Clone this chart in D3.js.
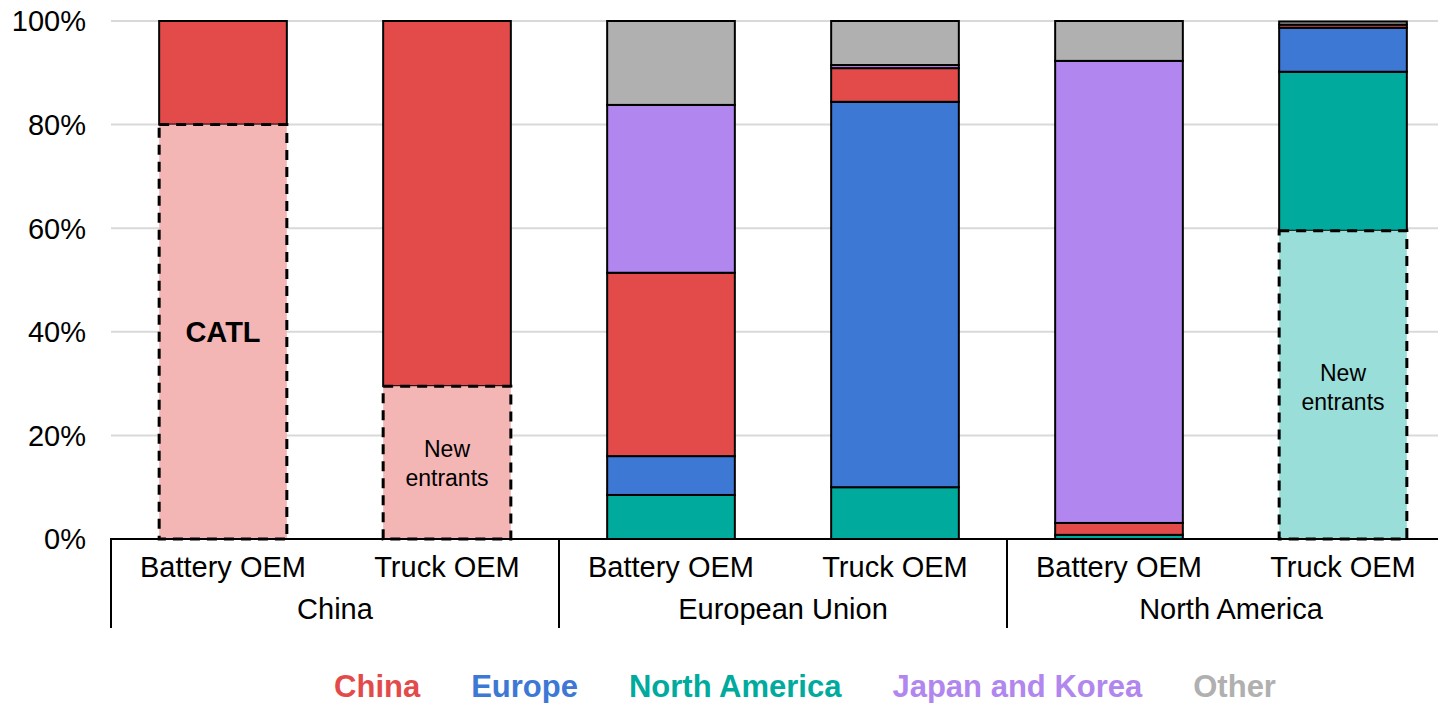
<!DOCTYPE html>
<html lang="en">
<head>
  <meta charset="UTF-8" />
  <title>Battery and truck OEM market share by region</title>
  <script src="https://d3js.org/d3.v7.min.js"></script>
  <style>
    body { margin: 0; background: white; }
    svg { display: block; font-family: "Liberation Sans", Arial, sans-serif; }
    .grid line { stroke: #d9d9d9; stroke-width: 2; }
    .seg { stroke: black; stroke-width: 2; }
    .seg.new { stroke-width: 3; stroke-dasharray: 10 7; }
  </style>
</head>
<body>
  <script>
    // bars, left to right
    const markets = ['China', 'China', 'European Union', 'European Union', 'North America', 'North America'];
    const oemTypes = ['Battery OEM', 'Truck OEM', 'Battery OEM', 'Truck OEM', 'Battery OEM', 'Truck OEM'];
    const groups = ['China', 'European Union', 'North America'];
    const origins = ['China', 'Europe', 'North America', 'Japan and Korea', 'Other'];
    const colors = ['#e34b4b', '#3d78d4', '#00ab9e', '#b186ee', '#b0b0b0'];
    const lightColors = ['#f4b5b5', null, '#99ded8', null, null];

    // share (%) of OEMs by origin; "newShare" is the dashed part (CATL / new entrants)
    const chinaShare = [20, 70.5, 35.4, 6.5, 2.3, 0.6];
    const europeShare = [0, 0, 7.5, 74.4, 0, 8.5];
    const naShare = [0, 0, 8.5, 10.0, 0.8, 30.7];
    const jkShare = [0, 0, 32.4, 0.6, 89.2, 0];
    const otherShare = [0, 0, 16.2, 8.5, 7.7, 0.6];
    const newShare = [80, 29.5, 0, 0, 0, 59.5];
    const newLabels = ['CATL', 'New\nentrants', '', '', '', 'New\nentrants'];
    const yTicks = [0, 20, 40, 60, 80, 100];

    const w = 1438, h = 703;
    const plotLeft = 111, plotRight = 1455, plotTop = 21, base = 539;

    const svg = d3.select('body').append('svg')
      .attr('width', w)
      .attr('height', h);

    const x = d3.scaleBand()
      .domain(d3.range(markets.length))
      .range([plotLeft, plotRight])
      .paddingInner(0.43)
      .paddingOuter(0.215);

    const y = d3.scaleLinear().domain([0, 100]).range([base, plotTop]);

    // gridlines + percent labels
    const grid = svg.append('g').attr('class', 'grid');
    grid.selectAll('line')
      .data(yTicks.filter(d => d > 0))
      .join('line')
      .attr('x1', plotLeft).attr('x2', w)
      .attr('y1', d => y(d)).attr('y2', d => y(d));

    svg.append('g')
      .selectAll('text')
      .data(yTicks)
      .join('text')
      .attr('x', 86)
      .attr('y', d => y(d))
      .attr('dy', '0.36em')
      .attr('text-anchor', 'end')
      .attr('font-size', '29px')
      .attr('fill', '#000')
      .text(d => d + '%');

    // build stacks per bar
    const segs = [];
    markets.forEach((m, i) => {
      let y0 = 0;
      const parts = [];
      if (newShare[i] > 0) {
        const oi = m === 'China' ? 0 : 2;
        parts.push({ v: newShare[i], fill: lightColors[oi], isNew: true });
      }
      const vals = [naShare[i], europeShare[i], chinaShare[i], jkShare[i], otherShare[i]];
      const cols = [colors[2], colors[1], colors[0], colors[3], colors[4]];
      [0, 1, 2, 3, 4].forEach(k => {
        if (vals[k] > 0) parts.push({ v: vals[k], fill: cols[k], isNew: false });
      });
      parts.forEach(p => {
        segs.push({ i, y0, y1: y0 + p.v, fill: p.fill, isNew: p.isNew });
        y0 += p.v;
      });
    });

    svg.append('g')
      .selectAll('rect')
      .data(segs.filter(s => !s.isNew))
      .join('rect')
      .attr('class', 'seg')
      .attr('x', d => x(d.i))
      .attr('width', x.bandwidth())
      .attr('y', d => y(Math.min(d.y1, 100)))
      .attr('height', d => y(d.y0) - y(Math.min(d.y1, 100)))
      .attr('fill', d => d.fill);

    svg.append('g')
      .selectAll('rect')
      .data(segs.filter(s => s.isNew))
      .join('rect')
      .attr('class', 'seg new')
      .attr('x', d => x(d.i))
      .attr('width', x.bandwidth())
      .attr('y', d => y(d.y1))
      .attr('height', d => y(d.y0) - y(d.y1))
      .attr('fill', d => d.fill);

    // labels in the dashed parts
    newLabels.forEach((lab, i) => {
      if (!lab) return;
      const cx = x(i) + x.bandwidth() / 2;
      const lines = lab.split('\n');
      const bold = lines.length === 1;
      const t = svg.append('text')
        .attr('text-anchor', 'middle')
        .attr('font-size', bold ? '29px' : '23px')
        .attr('font-weight', bold ? 'bold' : 'normal')
        .attr('fill', '#000');
      const mid = y(newShare[i] / 2) + (bold ? 0 : (i === 1 ? 1 : 2));
      lines.forEach((ln, k) => {
        t.append('tspan')
          .attr('x', cx)
          .attr('y', mid + (k - (lines.length - 1) / 2) * 29)
          .attr('dy', '0.36em')
          .text(ln);
      });
    });

    // category axis
    const axis = svg.append('g').attr('stroke', '#000').attr('stroke-width', 2);
    axis.append('line').attr('x1', plotLeft - 1).attr('x2', w).attr('y1', base).attr('y2', base);
    [0, 2, 4].forEach(k => {
      const gx = x(k) - x.step() * x.paddingOuter();
      axis.append('line').attr('x1', gx).attr('x2', gx).attr('y1', base).attr('y2', 628);
    });

    svg.append('g')
      .selectAll('text')
      .data(oemTypes)
      .join('text')
      .attr('x', (d, i) => x(i) + x.bandwidth() / 2)
      .attr('y', 567)
      .attr('dy', '0.36em')
      .attr('text-anchor', 'middle')
      .attr('font-size', '29px')
      .attr('fill', '#000')
      .text(d => d);

    svg.append('g')
      .selectAll('text')
      .data(groups)
      .join('text')
      .attr('x', (d, k) => x(2 * k) + x.step() - x.step() * x.paddingInner() / 2)
      .attr('y', 609)
      .attr('dy', '0.36em')
      .attr('text-anchor', 'middle')
      .attr('font-size', '29px')
      .attr('fill', '#000')
      .text(d => d);

    // legend
    const legend = svg.append('g').attr('font-size', '31px').attr('font-weight', 'bold');
    let lx = 0;
    const gap = 51;
    const items = legend.selectAll('text')
      .data(origins)
      .join('text')
      .attr('y', 686)
      .attr('dy', '0.36em')
      .attr('fill', (d, i) => colors[i])
      .text(d => d);
    items.each(function () {
      d3.select(this).attr('x', lx);
      lx += this.getComputedTextLength() + gap;
    });
    lx -= gap;
    legend.attr('transform', `translate(${(335 + 1275) / 2 - lx / 2},0)`);
  </script>
</body>
</html>
